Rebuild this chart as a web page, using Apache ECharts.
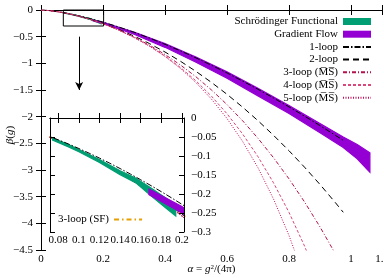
<!DOCTYPE html>
<html>
<head>
<meta charset="utf-8">
<title>beta function</title>
<script src="https://cdn.jsdelivr.net/npm/echarts@6/dist/echarts.min.js"></script>
<style>
  html, body { margin: 0; padding: 0; background: #fff; }
  #main { width: 384px; height: 278px; }
</style>
</head>
<body>
<div id="main"></div>
<script>
// alpha grid shared by the perturbative curves
var alpha = [0, 0.025, 0.05, 0.07, 0.08, 0.09, 0.1, 0.11, 0.12, 0.13, 0.14, 0.15, 0.16, 0.17, 0.18, 0.19, 0.2, 0.21,
             0.25, 0.3, 0.35, 0.4, 0.45, 0.5, 0.55, 0.6, 0.65, 0.7, 0.75, 0.8, 0.85, 0.9, 0.95, 0.975];
var loop1 = [0, -0.0100, -0.0284, -0.0470, -0.0574, -0.0685, -0.0803, -0.0926, -0.1055, -0.1190, -0.1330, -0.1475, -0.1625, -0.1780, -0.1939, -0.2103, -0.2271, -0.2443,
             -0.3174, -0.4172, -0.5257, -0.6423, -0.7664, -0.8976, -1.0356, -1.1799, -1.3305, -1.4869, -1.6490, -1.8166, -1.9896, -2.1677, -2.3508, -2.4442];
var loop2 = [0, -0.0102, -0.0292, -0.0489, -0.0600, -0.0720, -0.0848, -0.0984, -0.1127, -0.1278, -0.1435, -0.1600, -0.1772, -0.1951, -0.2136, -0.2329, -0.2528, -0.2734,
             -0.3623, -0.4880, -0.6298, -0.7877, -0.9616, -1.1516, -1.3579, -1.5806, -1.8198, -2.0758, -2.3489, -2.6390, -2.9465, -3.2716, -3.6146, -3.7927];
var loop3 = [0, -0.0102, -0.0292, -0.0490, -0.0602, -0.0723, -0.0852, -0.0989, -0.1134, -0.1287, -0.1447, -0.1615, -0.1791, -0.1974, -0.2165, -0.2363, -0.2569, -0.2782,
             -0.3712, -0.5050, -0.6590, -0.8342, -1.0319, -1.2532, -1.4998, -1.7730, -2.0745, -2.4059, -2.7691, -3.1657, -3.5977, -4.0670, -4.5757, -4.8453];
var loop4 = [0, -0.0102, -0.0292, -0.0490, -0.0602, -0.0723, -0.0852, -0.0990, -0.1135, -0.1288, -0.1450, -0.1619, -0.1795, -0.1980, -0.2172, -0.2373, -0.2581, -0.2798,
             -0.3746, -0.5126, -0.6742, -0.8620, -1.0791, -1.3292, -1.6164, -1.9455, -2.3218, -2.7512, -3.2400, -3.7953, -4.4249, -5.1368];
var loop5 = [0, -0.0102, -0.0292, -0.0490, -0.0602, -0.0723, -0.0853, -0.0990, -0.1135, -0.1289, -0.1450, -0.1619, -0.1796, -0.1981, -0.2174, -0.2374, -0.2583, -0.2800,
             -0.3753, -0.5146, -0.6788, -0.8716, -1.0974, -1.3618, -1.6715, -2.0344, -2.4598, -2.9585, -3.5431, -4.2276, -5.0282];

// 3-loop SF scheme (inset only)
var alphaSF = [0.07, 0.08, 0.09, 0.1, 0.11, 0.12, 0.13, 0.14, 0.15, 0.16, 0.17, 0.18, 0.19, 0.2, 0.21];
var loop3SF = [-0.0489, -0.0600, -0.0720, -0.0848, -0.0983, -0.1126, -0.1276, -0.1433, -0.1597, -0.1768, -0.1946, -0.2131, -0.2322, -0.2520, -0.2724];

// lattice bands
var sfAlpha = [0.0745, 0.09, 0.1, 0.12, 0.14, 0.155, 0.17, 0.185, 0.194];
var sfUpper = [-0.053, -0.070, -0.083, -0.109, -0.139, -0.158, -0.184, -0.212, -0.232];
var sfLower = [-0.058, -0.076, -0.089, -0.117, -0.149, -0.170, -0.205, -0.238, -0.258];

var gfAlpha = [0.168, 0.2, 0.3, 0.4, 0.5, 0.6, 0.7, 0.8, 0.9, 0.975, 1.02, 1.061];
var gfUpper = [-0.187, -0.233, -0.415, -0.63, -0.88, -1.16, -1.47, -1.79, -2.13, -2.38, -2.52, -2.68];
var gfLower = [-0.202, -0.250, -0.455, -0.70, -0.98, -1.28, -1.61, -1.94, -2.30, -2.58, -2.79, -3.04];

// inset window and its ticks
var insetX = [0.072, 0.202];
var insetY = [-0.3, 0];
var insetXTicks = [0.08, 0.1, 0.12, 0.14, 0.16, 0.18, 0.2];

var FONT = 'Liberation Serif';
var MS = 'M\u0305S\u0305';
var names = {
  sf: 'Schr\u00f6dinger Functional',
  gf: 'Gradient Flow',
  l1: '1-loop',
  l2: '2-loop',
  l3: '3-loop (' + MS + ')',
  l4: '4-loop (' + MS + ')',
  l5: '5-loop (' + MS + ')',
  sf3: '3-loop (SF)'
};

function pairs(xs, ys) {
  return ys.map(function (y, i) { return [xs[i], y]; });
}
function minus(v) {
  return String(v).replace('-', '\u2212');
}

var chart = echarts.init(document.getElementById('main'));

function bandRender(xs, lo, hi) {
  return function (params, api) {
    var pts = [], i;
    for (i = 0; i < xs.length; i++) pts.push(api.coord([xs[i], hi[i]]));
    for (i = xs.length - 1; i >= 0; i--) pts.push(api.coord([xs[i], lo[i]]));
    return {
      type: 'polygon',
      shape: { points: pts },
      style: { fill: api.visual('color'), stroke: api.visual('color'), lineWidth: 1.2 }
    };
  };
}

function band(name, color, xs, lo, hi, g, z) {
  return {
    type: 'custom', name: name, xAxisIndex: g, yAxisIndex: g,
    renderItem: bandRender(xs, lo, hi), data: [[xs[0], hi[0]]],
    itemStyle: { color: color }, clip: true, z: z, silent: true
  };
}

function curve(name, color, dash, xs, ys, g, z, w) {
  return {
    type: 'line', name: name, xAxisIndex: g, yAxisIndex: g,
    data: pairs(xs, ys), symbol: 'none', showSymbol: false, clip: true, z: z,
    lineStyle: { color: color, width: w || 1, type: dash },
    itemStyle: { color: color }, silent: true
  };
}

// legend entry for a line: keep the stroke, hide the marker
function lineEntry(name) {
  return { name: name, itemStyle: { opacity: 0 } };
}

var cBlack = '#000000';
var c3 = '#b3124c';
var c4 = '#d8487c';
var c5 = '#c2105e';
var cSF = '#009e73';
var cGF = '#9400d3';
var cOr = '#e69f00';

var dash1 = [6, 2, 1.5, 2];
var dash2 = [6, 4];
var dash3 = [4, 2, 1, 2];
var dash4 = [3, 2];
var dash5 = [1, 1.5];
var dashSF = [5, 3, 1.5, 3];

function mainAxisCommon() {
  return {
    axisLine: { lineStyle: { color: '#000', width: 1 } },
    axisTick: { inside: true, length: 5, lineStyle: { color: '#000' } },
    splitLine: { show: false }
  };
}

var labelStyle = { fontFamily: FONT, fontSize: 11, color: '#000' };

var series = [
  band(names.sf, cSF, sfAlpha, sfLower, sfUpper, 0, 2),
  band(names.gf, cGF, gfAlpha, gfLower, gfUpper, 0, 2),
  curve(names.l1, cBlack, dash1, alpha, loop1, 0, 3),
  curve(names.l2, cBlack, dash2, alpha, loop2, 0, 3),
  curve(names.l3, c3, dash3, alpha, loop3, 0, 3),
  curve(names.l4, c4, dash4, alpha, loop4, 0, 3),
  curve(names.l5, c5, dash5, alpha, loop5, 0, 3),
  {
    type: 'line', name: 'zoom', xAxisIndex: 0, yAxisIndex: 0, silent: true, clip: false, z: 4,
    symbol: 'none',
    data: [[insetX[0], insetY[1]], [insetX[1], insetY[1]], [insetX[1], insetY[0]], [insetX[0], insetY[0]], [insetX[0], insetY[1]]],
    lineStyle: { color: '#000', width: 1 },
    markLine: {
      silent: true, symbol: ['none', 'arrow'], symbolSize: [6, 8],
      lineStyle: { color: '#000', width: 1, type: 'solid' },
      label: { show: false },
      data: [[{ coord: [0.123, -0.5] }, { coord: [0.123, -1.5] }]]
    }
  },
  // inset
  curve(names.sf3, cOr, dashSF, alphaSF, loop3SF, 2, 6, 1.3),
  curve(names.l2, cBlack, dash2, alpha, loop2, 2, 6),
  curve(names.l3, c3, dash3, alpha, loop3, 2, 6),
  curve(names.l4, c4, dash4, alpha, loop4, 2, 6),
  curve(names.l5, c5, dash5, alpha, loop5, 2, 6),
  band(names.sf, cSF, sfAlpha, sfLower, sfUpper, 2, 7),
  band(names.gf, cGF, gfAlpha, gfLower, gfUpper, 2, 7),
  curve(names.l1, cBlack, dash1, alpha, loop1, 2, 8)
];

var option = {
  animation: false,
  backgroundColor: '#fff',
  textStyle: { fontFamily: FONT },
  grid: [
    { left: 41, top: 10, right: 2, bottom: 28, outerBoundsMode: 'none' },
    { left: 50, top: 118, width: 134, height: 114, show: true, backgroundColor: '#fff', borderWidth: 0, z: 5, outerBoundsMode: 'none' }
  ],
  xAxis: [
    Object.assign(mainAxisCommon(), {
      gridIndex: 0, type: 'value', position: 'bottom', min: 0, max: 1.1, interval: 0.2,
      axisLabel: Object.assign({ margin: 4 }, labelStyle),
      name: '{i|\u03b1} = {i|g}{s|2}/(4\u03c0)', nameLocation: 'middle', nameGap: 14, nameMoveOverlap: false,
      nameTextStyle: {
        fontFamily: FONT, fontSize: 11, color: '#000',
        rich: {
          i: { fontFamily: FONT, fontSize: 11, fontStyle: 'italic', color: '#000' },
          s: { fontFamily: FONT, fontSize: 7, verticalAlign: 'top', color: '#000' }
        }
      }
    }),
    Object.assign(mainAxisCommon(), {
      gridIndex: 0, type: 'value', position: 'top', min: 0, max: 1.1, interval: 0.2,
      axisLabel: { show: false }
    }),
    Object.assign(mainAxisCommon(), {
      gridIndex: 1, type: 'value', position: 'bottom', min: insetX[0], max: insetX[1], z: 8,
      axisTick: { inside: true, length: 5, customValues: insetXTicks, lineStyle: { color: '#000' } },
      axisLabel: Object.assign({ margin: 3, customValues: insetXTicks, hideOverlap: false }, labelStyle)
    }),
    Object.assign(mainAxisCommon(), {
      gridIndex: 1, type: 'value', position: 'top', min: insetX[0], max: insetX[1], z: 8,
      axisTick: { inside: true, length: 5, customValues: insetXTicks, lineStyle: { color: '#000' } },
      axisLabel: { show: false }
    })
  ],
  yAxis: [
    Object.assign(mainAxisCommon(), {
      gridIndex: 0, type: 'value', position: 'left', min: -4.5, max: 0, interval: 0.5,
      axisLabel: Object.assign({ margin: 8, formatter: minus }, labelStyle),
      name: '{i|\u03b2}({i|g})', nameLocation: 'middle', nameGap: 25, nameMoveOverlap: false,
      nameTextStyle: {
        fontFamily: FONT, fontSize: 11, color: '#000', padding: [0, 10, 0, 0],
        rich: { i: { fontFamily: FONT, fontSize: 11, fontStyle: 'italic', color: '#000' } }
      }
    }),
    Object.assign(mainAxisCommon(), {
      gridIndex: 0, type: 'value', position: 'right', min: -4.5, max: 0, interval: 0.5,
      axisLabel: { show: false }
    }),
    Object.assign(mainAxisCommon(), {
      gridIndex: 1, type: 'value', position: 'right', min: insetY[0], max: insetY[1], interval: 0.05, z: 8,
      axisLabel: Object.assign({ margin: 7, formatter: minus }, labelStyle)
    }),
    Object.assign(mainAxisCommon(), {
      gridIndex: 1, type: 'value', position: 'left', min: insetY[0], max: insetY[1], interval: 0.05, z: 8,
      axisLabel: { show: false }
    })
  ],
  legend: [
    {
      orient: 'vertical', right: 12, top: 16, align: 'right', selectedMode: false,
      itemWidth: 28, itemHeight: 7, itemGap: 1.7, padding: 0, z: 10,
      textStyle: { fontFamily: FONT, fontSize: 11, color: '#000', lineHeight: 11 },
      data: [
        { name: names.sf, icon: 'rect' },
        { name: names.gf, icon: 'rect' },
        lineEntry(names.l1), lineEntry(names.l2), lineEntry(names.l3), lineEntry(names.l4), lineEntry(names.l5)
      ]
    },
    {
      orient: 'horizontal', left: 58, top: 214, align: 'right', selectedMode: false,
      itemWidth: 28, itemHeight: 7, padding: 0, z: 10,
      textStyle: { fontFamily: FONT, fontSize: 11, color: '#000', lineHeight: 11 },
      data: [lineEntry(names.sf3)]
    }
  ],
  series: series
};

chart.setOption(option);
</script>
</body>
</html>
